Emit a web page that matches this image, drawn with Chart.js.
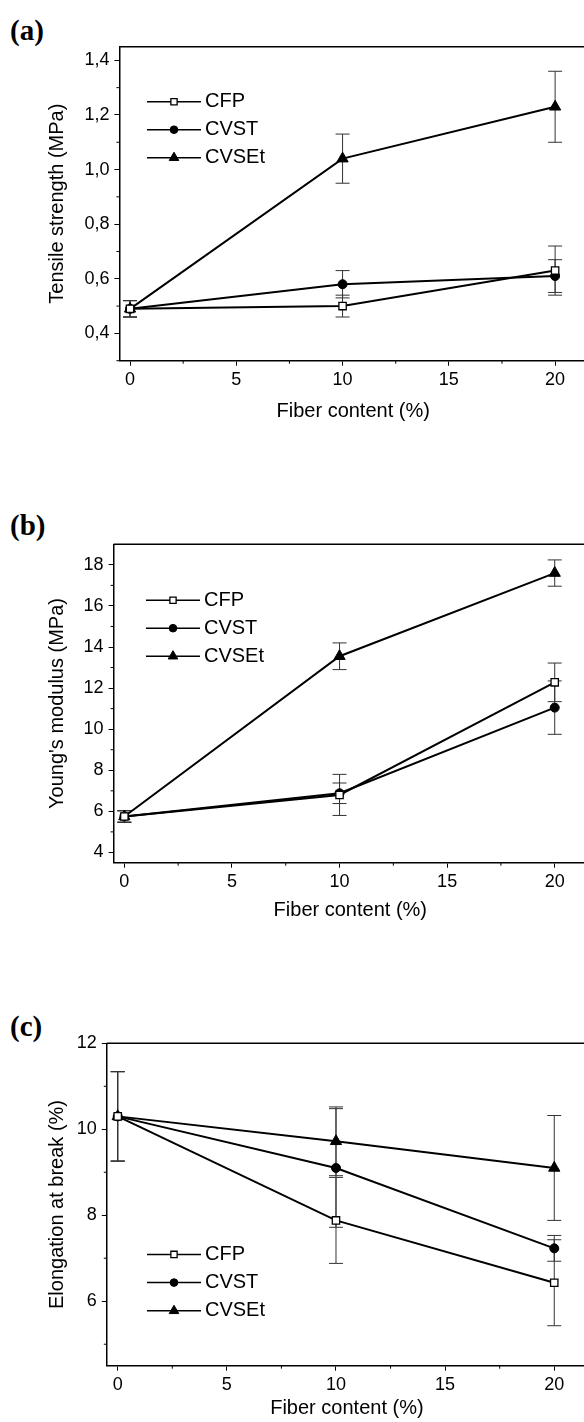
<!DOCTYPE html>
<html lang="en">
<head>
<meta charset="UTF-8">
<title>Fiber content: tensile strength, modulus, elongation</title>
<script src="https://cdn.jsdelivr.net/npm/chart.js"></script>
<style>
  html, body { margin: 0; padding: 0; width: 584px; height: 1422px; overflow: hidden; background: #fff; }
  .panel { position: absolute; left: 0; }
  .tag { position: absolute; left: 10px; font-family: "Liberation Serif", "Times New Roman", serif;
         font-weight: bold; font-size: 29px; line-height: 28px; color: #000; }
</style>
</head>
<body>
<div class="tag" style="top:16px">(a)</div>
<div class="tag" style="top:511px">(b)</div>
<div class="tag" style="top:1012px">(c)</div>

<div class="panel" style="top:0px"><canvas id="chartA" width="600" height="470"></canvas></div>
<div class="panel" style="top:470px"><canvas id="chartB" width="600" height="470"></canvas></div>
<div class="panel" style="top:940px"><canvas id="chartC" width="600" height="482"></canvas></div>

<script>
// shared x values
const fiberContent = [0, 10, 20];
const fiberTicks = [0, 5, 10, 15, 20];
const fiberTickLabels = ['0', '5', '10', '15', '20'];
const fiberMinor = [2.5, 7.5, 12.5, 17.5];

// (a) tensile strength (MPa)
const tensileCFP = [0.49, 0.50, 0.63];
const tensileCVST = [0.49, 0.58, 0.61];
const tensileCVSEt = [0.49, 1.04, 1.23];
const tensileCFPErr = [0.03, 0.04, 0.09];
const tensileCVSTErr = [0.03, 0.05, 0.06];
const tensileCVSEtErr = [0.03, 0.09, 0.13];
const tensileTicks = [0.4, 0.6, 0.8, 1.0, 1.2, 1.4];
const tensileTickLabels = ['0,4', '0,6', '0,8', '1,0', '1,2', '1,4'];
const tensileMinor = [0.3, 0.5, 0.7, 0.9, 1.1, 1.3];

// (b) Young's modulus (MPa)
const modulusCFP = [5.75, 6.80, 12.28];
const modulusCVST = [5.75, 6.88, 11.05];
const modulusCVSEt = [5.75, 13.55, 17.60];
const modulusCFPErr = [0.28, 1.00, 0.94];
const modulusCVSTErr = [0.28, 0.50, 1.30];
const modulusCVSEtErr = [0.28, 0.65, 0.64];
const modulusTicks = [4, 6, 8, 10, 12, 14, 16, 18];
const modulusTickLabels = ['4', '6', '8', '10', '12', '14', '16', '18'];
const modulusMinor = [5, 7, 9, 11, 13, 15, 17];

// (c) elongation at break (%)
const elongCFP = [10.30, 7.88, 6.43];
const elongCVST = [10.30, 9.10, 7.23];
const elongCVSEt = [10.30, 9.72, 9.10];
const elongCFPErr = [1.04, 1.00, 1.00];
const elongCVSTErr = [1.04, 1.38, 0.30];
const elongCVSEtErr = [1.04, 0.80, 1.22];
const elongTicks = [6, 8, 10, 12];
const elongTickLabels = ['6', '8', '10', '12'];
const elongMinor = [5, 7, 9, 11];

const seriesNames = ['CFP', 'CVST', 'CVSEt'];
const markerStyles = [
    { pointStyle: 'rect', radius: 5.2, bg: '#fff', border: 1.3 },
    { pointStyle: 'circle', radius: 4.5, bg: '#000', border: 1 },
    { pointStyle: 'triangle', radius: 6.5, bg: '#000', border: 1 }
];

const FONT = '"Liberation Sans", Arial, sans-serif';

// error bars, extra frame lines, minor ticks, inside legend
const decor = {
    id: 'decor',
    beforeDatasetsDraw(chart) {
        const ctx = chart.ctx;
        const xs = chart.scales.x, ys = chart.scales.y;
        ctx.save();
        ctx.strokeStyle = '#333';
        ctx.lineWidth = 1;
        chart.data.datasets.forEach(ds => {
            ds.data.forEach((p, i) => {
                const e = ds.errors[i];
                const px = xs.getPixelForValue(p.x);
                const top = ys.getPixelForValue(p.y + e);
                const bot = ys.getPixelForValue(p.y - e);
                ctx.beginPath();
                ctx.moveTo(px, top); ctx.lineTo(px, bot);
                ctx.moveTo(px - 7, top); ctx.lineTo(px + 7, top);
                ctx.moveTo(px - 7, bot); ctx.lineTo(px + 7, bot);
                ctx.stroke();
            });
        });
        ctx.restore();
    },
    afterDraw(chart, args, opts) {
        const ctx = chart.ctx;
        const a = chart.chartArea;
        const xs = chart.scales.x, ys = chart.scales.y;
        ctx.save();
        ctx.strokeStyle = '#000';
        // top and right frame
        ctx.lineWidth = 1.5;
        ctx.beginPath();
        ctx.moveTo(a.left, a.top); ctx.lineTo(a.right, a.top); ctx.lineTo(a.right, a.bottom);
        ctx.stroke();
        // minor ticks
        ctx.lineWidth = 1;
        ctx.beginPath();
        opts.xMinor.forEach(v => {
            const px = xs.getPixelForValue(v);
            ctx.moveTo(px, a.bottom); ctx.lineTo(px, a.bottom + 3);
        });
        opts.yMinor.forEach(v => {
            const py = ys.getPixelForValue(v);
            ctx.moveTo(a.left, py); ctx.lineTo(a.left - 3, py);
        });
        ctx.stroke();
        // legend
        ctx.font = '20px ' + FONT;
        ctx.textBaseline = 'middle';
        ctx.fillStyle = '#000';
        chart.data.datasets.forEach((ds, i) => {
            const y = opts.legendY + i * opts.legendGap;
            const x0 = opts.legendX, x1 = x0 + 54;
            ctx.strokeStyle = '#000';
            ctx.lineWidth = 1.5;
            ctx.beginPath(); ctx.moveTo(x0, y); ctx.lineTo(x1, y); ctx.stroke();
            ctx.fillStyle = ds.pointBackgroundColor;
            ctx.strokeStyle = '#000';
            ctx.lineWidth = ds.pointBorderWidth;
            Chart.helpers.drawPoint(ctx, {
                pointStyle: ds.pointStyle, rotation: 0,
                radius: ds.pointRadius * 0.85, borderWidth: ds.pointBorderWidth
            }, (x0 + x1) / 2, y);
            ctx.fillStyle = '#000';
            ctx.fillText(ds.label, x1 + 4, y);
        });
        ctx.restore();
    }
};

function makePanel(id, p) {
    const datasets = p.series.map((vals, i) => ({
        label: seriesNames[i],
        data: fiberContent.map((x, j) => ({ x: x, y: vals[j] })),
        errors: p.errors[i],
        borderColor: '#000',
        borderWidth: 2,
        pointStyle: markerStyles[i].pointStyle,
        pointRadius: markerStyles[i].radius,
        pointBackgroundColor: markerStyles[i].bg,
        pointBorderColor: '#000',
        pointBorderWidth: markerStyles[i].border,
        showLine: true,
        tension: 0
    }));

    const tickFont = { family: FONT, size: 18 };
    const titleFont = { family: FONT, size: 20 };

    new Chart(document.getElementById(id), {
        type: 'scatter',
        data: { datasets: datasets },
        plugins: [decor],
        options: {
            responsive: false,
            devicePixelRatio: 1,
            animation: false,
            events: [],
            layout: { padding: { left: 0, right: 13, top: p.padTop, bottom: p.padBottom } },
            scales: {
                x: {
                    type: 'linear', min: -0.5, max: 21.5,
                    afterBuildTicks: s => { s.ticks = fiberTicks.map(v => ({ value: v })); },
                    afterFit: s => { s.height = p.xHeight; },
                    ticks: {
                        color: '#000', font: tickFont, padding: 4, maxRotation: 0, autoSkip: false,
                        callback: (v, i) => fiberTickLabels[i]
                    },
                    grid: { drawOnChartArea: false, tickLength: 5, color: '#000', tickWidth: 1 },
                    border: { color: '#000', width: 1.5 },
                    title: { display: true, text: 'Fiber content (%)', color: '#000', font: titleFont, padding: 0 }
                },
                y: {
                    type: 'linear', min: p.yMin, max: p.yMax,
                    afterBuildTicks: s => { s.ticks = p.yTicks.map(v => ({ value: v })); },
                    afterFit: s => { s.width = p.left; },
                    ticks: {
                        color: '#000', font: tickFont, padding: 5, autoSkip: false,
                        callback: (v, i) => p.yTickLabels[i]
                    },
                    grid: { drawOnChartArea: false, tickLength: 5, color: '#000', tickWidth: 1 },
                    border: { color: '#000', width: 1.5 },
                    title: { display: true, text: p.yTitle, color: '#000', font: titleFont,
                             padding: { top: 45.7, bottom: 0 } }
                }
            },
            plugins: {
                legend: { display: false },
                tooltip: { enabled: false },
                decor: {
                    xMinor: fiberMinor, yMinor: p.yMinor,
                    legendX: p.legendX, legendY: p.legendY, legendGap: p.legendGap
                }
            }
        }
    });
}

makePanel('chartA', {
    series: [tensileCFP, tensileCVST, tensileCVSEt],
    errors: [tensileCFPErr, tensileCVSTErr, tensileCVSEtErr],
    yMin: 0.3, yMax: 1.45,
    yTicks: tensileTicks, yTickLabels: tensileTickLabels, yMinor: tensileMinor,
    yTitle: 'Tensile strength (MPa)',
    left: 119.4, padTop: 46.7, xHeight: 63, padBottom: 46.3,
    legendX: 147, legendY: 101.7, legendGap: 28
});

makePanel('chartB', {
    series: [modulusCFP, modulusCVST, modulusCVSEt],
    errors: [modulusCFPErr, modulusCVSTErr, modulusCVSEtErr],
    yMin: 3.5, yMax: 19,
    yTicks: modulusTicks, yTickLabels: modulusTickLabels, yMinor: modulusMinor,
    yTitle: "Young's modulus (MPa)",
    left: 113.6, padTop: 74.3, xHeight: 59.3, padBottom: 18,
    legendX: 146, legendY: 130.2, legendGap: 28
});

makePanel('chartC', {
    series: [elongCFP, elongCVST, elongCVSEt],
    errors: [elongCFPErr, elongCVSTErr, elongCVSEtErr],
    yMin: 4.5, yMax: 12,
    yTicks: elongTicks, yTickLabels: elongTickLabels, yMinor: elongMinor,
    yTitle: 'Elongation at break (%)',
    left: 106.8, padTop: 103.3, xHeight: 54.7, padBottom: 1.6,
    legendX: 147, legendY: 314.4, legendGap: 28.2
});
</script>
</body>
</html>
